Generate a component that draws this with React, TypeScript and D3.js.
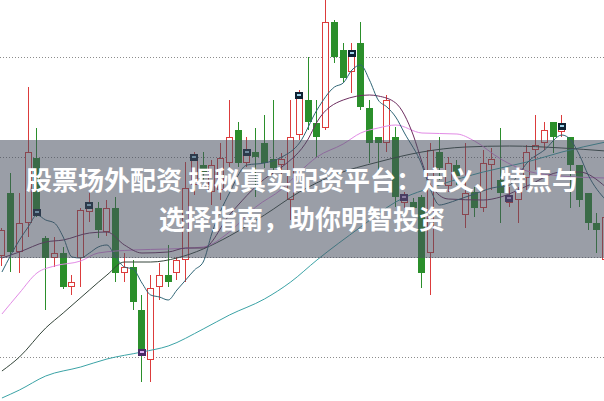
import React, { useEffect, useRef } from "react";
import * as d3 from "d3";

// candle data, one entry per trading day
const opens = [
    11.01, 11.64, 11.05, 11.34, 11.99, 11.19, 10.99, 11.04, 10.7, 10.99,
    11.45, 11.49, 11.25, 11.49, 10.84, 10.9, 10.47, 9.97, 10.7, 10.82,
    10.84, 10.97, 11.72, 11.92, 11.65, 11.67, 11.94, 12.27, 11.94, 12.05,
    12.14, 11.98, 11.92, 11.57, 12.22, 12.57, 12.34, 12.29, 13.35, 13.07,
    12.85, 13.14, 12.49, 12.2, 12.14, 12.2, 11.54, 11.55, 11.6, 11.04,
    12.05, 11.71, 11.92, 11.42, 11.65, 11.49, 11.92, 11.77, 11.54, 11.57,
    11.79, 12.07, 12.14, 12.35, 12.25, 12.2, 11.92, 11.64, 11.34, 10.97,
];
const closes = [
    11.27, 11.05, 11.34, 12.05, 11.45, 10.99, 11.04, 10.7, 10.75, 11.47,
    11.52, 11.27, 11.49, 10.84, 10.9, 10.55, 10.05, 10.69, 10.82, 10.75,
    10.97, 11.69, 12.0, 11.85, 11.92, 11.99, 12.2, 11.94, 12.05, 12.0,
    11.94, 11.89, 11.98, 12.2, 12.62, 12.35, 12.2, 13.35, 13.0, 12.79,
    13.04, 12.5, 12.14, 12.14, 12.57, 11.6, 11.6, 11.49, 10.84, 12.07,
    11.89, 11.94, 11.81, 11.64, 11.49, 11.94, 11.98, 11.64, 11.59, 11.65,
    12.05, 12.12, 12.27, 12.2, 12.31, 11.92, 11.57, 11.34, 11.27, 11.4,
];
const highs = [
    11.29, 11.84, 11.64, 12.7, 12.29, 11.21, 11.2, 11.1, 10.82, 11.49,
    11.64, 11.55, 11.57, 11.6, 11.04, 10.97, 10.62, 10.82, 10.94, 11.12,
    11.0, 11.95, 12.05, 12.05, 11.97, 12.14, 12.57, 12.35, 12.2, 12.29,
    12.42, 12.57, 12.04, 12.57, 12.67, 13.0, 12.57, 13.6, 13.37, 13.14,
    13.14, 13.35, 12.57, 12.2, 12.62, 12.3, 11.65, 11.59, 11.62, 12.14,
    12.2, 12.0, 11.97, 12.14, 11.7, 12.07, 12.09, 12.29, 11.7, 11.7,
    12.12, 12.42, 12.35, 12.35, 12.42, 12.2, 11.92, 11.64, 11.44, 11.47,
];
const lows = [
    10.91, 10.85, 10.84, 11.2, 11.4, 10.47, 10.9, 10.68, 10.62, 10.7,
    11.35, 11.19, 11.21, 10.75, 10.75, 10.47, 9.75, 9.75, 10.57, 10.7,
    10.77, 10.75, 11.62, 11.77, 11.52, 11.57, 11.9, 11.9, 11.9, 11.6,
    11.89, 11.85, 11.82, 11.37, 12.17, 12.27, 11.99, 12.27, 12.94, 12.75,
    12.64, 12.47, 11.94, 11.84, 12.05, 11.5, 11.49, 11.45, 10.69, 10.62,
    11.77, 11.65, 11.72, 11.29, 11.4, 11.45, 11.67, 11.34, 11.5, 11.34,
    11.67, 11.87, 12.07, 12.04, 12.2, 11.49, 11.5, 11.27, 11.04, 10.92,
];

// weekly markers (dark / purple)
const markDark = [4, 10, 22, 28, 34, 40, 64];
const markPurple = [16, 46, 58];

// moving averages: [day index, value]
const ma5: [number, number][] = [
    [0, 10.85], [2, 11.17], [3, 11.3], [4, 11.42], [5, 11.37], [6, 11.34], [7, 11.2],
    [8, 11.0], [9, 10.99], [10, 11.04], [11, 11.1], [12, 11.12], [13, 11.0], [14, 10.9],
    [15, 10.88], [16, 10.74], [17, 10.62], [18, 10.6], [19, 10.57], [20, 10.67],
    [21, 10.77], [22, 10.87], [23, 10.95], [24, 11.24], [26, 11.64], [28, 11.92],
    [30, 11.94], [32, 12.0], [34, 12.14], [36, 12.47], [38, 12.7], [39, 12.74],
    [40, 12.87], [41, 12.92], [42, 12.77], [43, 12.57], [44, 12.5], [45, 12.4],
    [46, 12.24], [48, 11.92], [49, 11.67], [50, 11.52], [51, 11.54], [52, 11.57],
    [54, 11.63], [56, 11.69], [58, 11.72], [59, 11.82], [60, 11.94], [62, 12.07],
    [64, 12.22], [65, 12.17], [66, 12.02], [67, 11.82], [69, 11.57],
];
const ma10: [number, number][] = [
    [0, 10.99], [2, 11.05], [5, 11.15], [7, 11.17], [10, 11.24], [12, 11.25], [14, 11.12],
    [16, 11.04], [19, 11.05], [21, 11.09], [23, 11.09], [26, 11.42], [30, 11.78],
    [32, 11.9], [35, 12.18], [36, 12.35], [39, 12.57], [42, 12.62], [43, 12.61],
    [45, 12.54], [47, 12.22], [48, 11.95], [49, 11.72], [51, 11.58], [55, 11.57],
    [57, 11.6], [60, 11.71], [64, 11.85], [66, 11.85], [69, 11.7],
];
const ma20: [number, number][] = [
    [0, 10.43], [2, 10.64], [4, 10.84], [6, 10.91], [9, 10.96], [11, 11.04], [15, 11.07],
    [19, 11.08], [23, 11.1], [26, 11.25], [29, 11.5], [32, 11.68], [34, 11.85], [36, 12.0],
    [39, 12.13], [41, 12.24], [43, 12.29], [45, 12.32], [48, 12.24], [52, 12.23],
    [54, 12.16], [57, 11.98], [60, 11.86], [64, 11.81], [69, 11.79],
];
const ma30: [number, number][] = [
    [0, 9.86], [2, 10.0], [5, 10.29], [7, 10.44], [10, 10.67], [12, 10.82], [14, 10.95],
    [17, 10.95], [20, 10.99], [23, 11.08], [26, 11.21], [30, 11.42], [34, 11.65],
    [38, 11.82], [43, 11.95], [48, 12.05], [53, 12.1], [58, 12.11], [64, 12.09], [69, 12.06],
];
const ma60: [number, number][] = [
    [0, 9.59], [2, 9.67], [5, 9.81], [9, 9.9], [12, 9.98], [16, 10.05], [19, 10.11],
    [23, 10.28], [26, 10.42], [30, 10.58], [33, 10.75], [36, 10.97], [41, 11.3],
    [45, 11.55], [50, 11.72], [55, 11.85], [60, 11.95], [64, 12.05], [69, 12.15],
];

const gridValues = [13, 12, 11, 10];
const titleLines = [
    "股票场外配资 揭秘真实配资平台：定义、特点与",
    "选择指南，助你明智投资",
];

const W = 604;
const H = 401;
const RED = "#dc3c3c";
const GREEN = "#2b8f2b";

const App = () => {
    const ref = useRef<SVGSVGElement>(null);

    useEffect(() => {
        if (!ref.current) return;
        const svg = d3.select(ref.current);
        svg.selectAll("*").remove();

        const idx = d3.range(opens.length);
        const step = 8.75;
        const x = d3
            .scaleBand<number>()
            .domain(idx)
            .range([1.95 - step / 2, 1.95 - step / 2 + step * idx.length])
            .paddingInner(0.2)
            .paddingOuter(0.1);
        const y = d3.scaleLinear().domain([9.56, 13.57]).range([H, 0]);
        const cx = (i: number) => x(i)! + x.bandwidth() / 2;

        svg.append("rect").attr("width", W).attr("height", H).attr("fill", "#fff");

        // dotted grid
        svg.append("g")
            .selectAll("line")
            .data(gridValues)
            .enter()
            .append("line")
            .attr("x1", 0)
            .attr("x2", W)
            .attr("y1", (d) => Math.round(y(d)) + 0.5)
            .attr("y2", (d) => Math.round(y(d)) + 0.5)
            .attr("stroke", "#8c8c8c")
            .attr("stroke-dasharray", "1,2");

        // candles
        const g = svg.append("g");
        idx.forEach((i) => {
            const up = closes[i] >= opens[i];
            const col = up ? RED : GREEN;
            const bx = Math.round(x(i)!);
            const wx = bx + 3.5;
            const top = Math.round(y(Math.max(opens[i], closes[i])));
            const bot = Math.max(Math.round(y(Math.min(opens[i], closes[i]))), top + 2);
            const hi = Math.round(y(highs[i]));
            const lo = Math.round(y(lows[i]));
            if (up) {
                g.append("line").attr("x1", wx).attr("x2", wx).attr("y1", hi).attr("y2", top).attr("stroke", col);
                g.append("line").attr("x1", wx).attr("x2", wx).attr("y1", bot).attr("y2", lo).attr("stroke", col);
                g.append("rect")
                    .attr("x", bx + 0.5)
                    .attr("y", top + 0.5)
                    .attr("width", 6)
                    .attr("height", bot - top - 1)
                    .attr("fill", "#fff")
                    .attr("stroke", col);
            } else {
                g.append("line").attr("x1", wx).attr("x2", wx).attr("y1", hi).attr("y2", lo).attr("stroke", col);
                g.append("rect")
                    .attr("x", bx)
                    .attr("y", top)
                    .attr("width", 7)
                    .attr("height", bot - top)
                    .attr("fill", col);
            }
        });

        // moving averages
        const line = d3
            .line<[number, number]>()
            .x((d) => cx(d[0]))
            .y((d) => y(d[1]))
            .curve(d3.curveMonotoneX);
        const mas: [[number, number][], string][] = [
            [ma60, "#3ba3a6"],
            [ma30, "#34453a"],
            [ma20, "#e28be6"],
            [ma10, "#6d2d5f"],
            [ma5, "#2f6576"],
        ];
        mas.forEach(([data, color]) => {
            svg.append("path")
                .attr("d", line(data))
                .attr("fill", "none")
                .attr("stroke", color)
                .attr("stroke-width", 1);
        });

        // markers
        const marker = (list: number[], outer: string, inner: string) => {
            list.forEach((i) => {
                const mx = Math.round(cx(i)) - 4;
                const my = Math.round(y(closes[i])) - 3;
                svg.append("rect").attr("x", mx).attr("y", my).attr("width", 8).attr("height", 7).attr("fill", outer);
                svg.append("rect").attr("x", mx + 2).attr("y", my + 2).attr("width", 4).attr("height", 2).attr("fill", inner);
            });
        };
        marker(markDark, "#0e2233", "#9fd3ea");
        marker(markPurple, "#4a2a66", "#d9b3f0");

        // title band
        svg.append("rect")
            .attr("x", 0)
            .attr("y", 140)
            .attr("width", W)
            .attr("height", 118)
            .attr("fill", "#474f5f")
            .attr("opacity", 0.55);

        svg.append("g")
            .selectAll("text")
            .data(titleLines)
            .enter()
            .append("text")
            .attr("x", W / 2)
            .attr("y", (_, k) => 190 + k * 39)
            .attr("text-anchor", "middle")
            .attr("fill", "#fff")
            .attr("font-family", "'Noto Sans CJK SC', sans-serif")
            .attr("font-weight", "bold")
            .attr("font-size", 26)
            .text((d) => d);
    }, []);

    return (
        <svg
            ref={ref}
            width={W}
            height={H}
            style={{ position: "absolute", left: 0, top: 0 }}
        />
    );
};

export default App;
